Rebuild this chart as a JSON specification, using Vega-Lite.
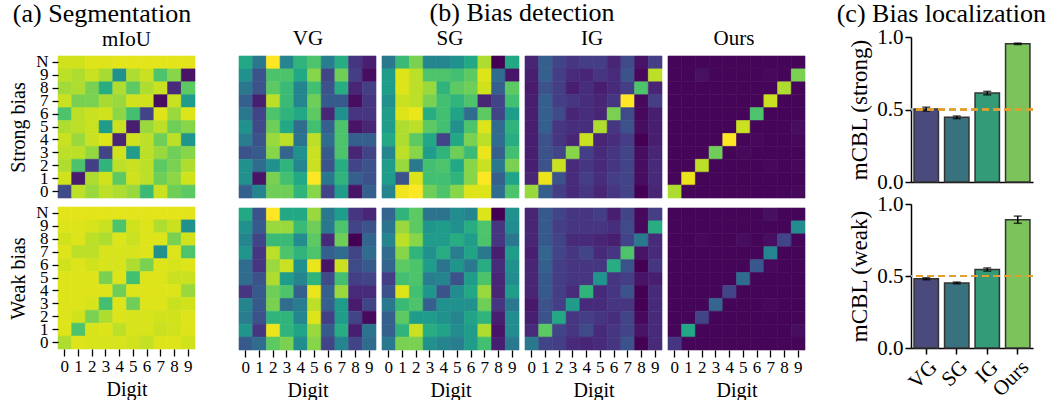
{
"$schema": "https://vega.github.io/schema/vega-lite/v6.json",
"background": "white",
"padding": {"left": 8, "top": 0, "right": 0, "bottom": 0},
"config": {
  "font": "Liberation Serif",
  "view": {"stroke": null},
  "text": {"font": "Liberation Serif"},
  "rect": {"strokeWidth": 0.6},
  "axis": {"labelFont": "Liberation Serif", "titleFont": "Liberation Serif", "labelColor": "black", "titleColor": "black", "titleFontWeight": "normal", "tickColor": "black", "domainColor": "black", "grid": false, "labelFontSize": 17, "titleFontSize": 20, "tickWidth": 1.3},
  "title": {"font": "Liberation Serif", "fontWeight": "normal", "color": "black"}
},
"datasets": {
"bars": [
{"b":"strong","m":"VG","v":0.503,"lo":0.489,"hi":0.516},
{"b":"strong","m":"SG","v":0.446,"lo":0.437,"hi":0.455},
{"b":"strong","m":"IG","v":0.613,"lo":0.601,"hi":0.625},
{"b":"strong","m":"Ours","v":0.953,"lo":0.948,"hi":0.958},
{"b":"weak","m":"VG","v":0.481,"lo":0.474,"hi":0.488},
{"b":"weak","m":"SG","v":0.452,"lo":0.446,"hi":0.458},
{"b":"weak","m":"IG","v":0.545,"lo":0.534,"hi":0.556},
{"b":"weak","m":"Ours","v":0.891,"lo":0.866,"hi":0.916}
],
"heat": [
{"k":"ms","x":0,"y":10,"v":93},{"k":"ms","x":1,"y":10,"v":93},{"k":"ms","x":2,"y":10,"v":95},{"k":"ms","x":3,"y":10,"v":95},{"k":"ms","x":4,"y":10,"v":96},{"k":"ms","x":5,"y":10,"v":96},{"k":"ms","x":6,"y":10,"v":96},{"k":"ms","x":7,"y":10,"v":96},{"k":"ms","x":8,"y":10,"v":96},{"k":"ms","x":9,"y":10,"v":96},
{"k":"ms","x":0,"y":9,"v":90},{"k":"ms","x":1,"y":9,"v":88},{"k":"ms","x":2,"y":9,"v":92},{"k":"ms","x":3,"y":9,"v":87},{"k":"ms","x":4,"y":9,"v":50},{"k":"ms","x":5,"y":9,"v":88},{"k":"ms","x":6,"y":9,"v":92},{"k":"ms","x":7,"y":9,"v":72},{"k":"ms","x":8,"y":9,"v":82},{"k":"ms","x":9,"y":9,"v":5},
{"k":"ms","x":0,"y":8,"v":86},{"k":"ms","x":1,"y":8,"v":88},{"k":"ms","x":2,"y":8,"v":80},{"k":"ms","x":3,"y":8,"v":62},{"k":"ms","x":4,"y":8,"v":88},{"k":"ms","x":5,"y":8,"v":75},{"k":"ms","x":6,"y":8,"v":88},{"k":"ms","x":7,"y":8,"v":92},{"k":"ms","x":8,"y":8,"v":12},{"k":"ms","x":9,"y":8,"v":75},
{"k":"ms","x":0,"y":7,"v":92},{"k":"ms","x":1,"y":7,"v":80},{"k":"ms","x":2,"y":7,"v":80},{"k":"ms","x":3,"y":7,"v":87},{"k":"ms","x":4,"y":7,"v":85},{"k":"ms","x":5,"y":7,"v":93},{"k":"ms","x":6,"y":7,"v":93},{"k":"ms","x":7,"y":7,"v":3},{"k":"ms","x":8,"y":7,"v":92},{"k":"ms","x":9,"y":7,"v":55},
{"k":"ms","x":0,"y":6,"v":72},{"k":"ms","x":1,"y":6,"v":90},{"k":"ms","x":2,"y":6,"v":92},{"k":"ms","x":3,"y":6,"v":93},{"k":"ms","x":4,"y":6,"v":83},{"k":"ms","x":5,"y":6,"v":70},{"k":"ms","x":6,"y":6,"v":20},{"k":"ms","x":7,"y":6,"v":95},{"k":"ms","x":8,"y":6,"v":85},{"k":"ms","x":9,"y":6,"v":95},
{"k":"ms","x":0,"y":5,"v":88},{"k":"ms","x":1,"y":5,"v":90},{"k":"ms","x":2,"y":5,"v":92},{"k":"ms","x":3,"y":5,"v":55},{"k":"ms","x":4,"y":5,"v":92},{"k":"ms","x":5,"y":5,"v":8},{"k":"ms","x":6,"y":5,"v":85},{"k":"ms","x":7,"y":5,"v":90},{"k":"ms","x":8,"y":5,"v":78},{"k":"ms","x":9,"y":5,"v":82},
{"k":"ms","x":0,"y":4,"v":92},{"k":"ms","x":1,"y":4,"v":85},{"k":"ms","x":2,"y":4,"v":92},{"k":"ms","x":3,"y":4,"v":95},{"k":"ms","x":4,"y":4,"v":10},{"k":"ms","x":5,"y":4,"v":93},{"k":"ms","x":6,"y":4,"v":90},{"k":"ms","x":7,"y":4,"v":78},{"k":"ms","x":8,"y":4,"v":90},{"k":"ms","x":9,"y":4,"v":52},
{"k":"ms","x":0,"y":3,"v":90},{"k":"ms","x":1,"y":3,"v":90},{"k":"ms","x":2,"y":3,"v":84},{"k":"ms","x":3,"y":3,"v":20},{"k":"ms","x":4,"y":3,"v":93},{"k":"ms","x":5,"y":3,"v":55},{"k":"ms","x":6,"y":3,"v":90},{"k":"ms","x":7,"y":3,"v":85},{"k":"ms","x":8,"y":3,"v":78},{"k":"ms","x":9,"y":3,"v":82},
{"k":"ms","x":0,"y":2,"v":88},{"k":"ms","x":1,"y":2,"v":72},{"k":"ms","x":2,"y":2,"v":18},{"k":"ms","x":3,"y":2,"v":65},{"k":"ms","x":4,"y":2,"v":90},{"k":"ms","x":5,"y":2,"v":92},{"k":"ms","x":6,"y":2,"v":90},{"k":"ms","x":7,"y":2,"v":75},{"k":"ms","x":8,"y":2,"v":80},{"k":"ms","x":9,"y":2,"v":88},
{"k":"ms","x":0,"y":1,"v":93},{"k":"ms","x":1,"y":1,"v":7},{"k":"ms","x":2,"y":1,"v":88},{"k":"ms","x":3,"y":1,"v":93},{"k":"ms","x":4,"y":1,"v":75},{"k":"ms","x":5,"y":1,"v":93},{"k":"ms","x":6,"y":1,"v":90},{"k":"ms","x":7,"y":1,"v":78},{"k":"ms","x":8,"y":1,"v":83},{"k":"ms","x":9,"y":1,"v":93},
{"k":"ms","x":0,"y":0,"v":22},{"k":"ms","x":1,"y":0,"v":90},{"k":"ms","x":2,"y":0,"v":85},{"k":"ms","x":3,"y":0,"v":90},{"k":"ms","x":4,"y":0,"v":88},{"k":"ms","x":5,"y":0,"v":85},{"k":"ms","x":6,"y":0,"v":68},{"k":"ms","x":7,"y":0,"v":92},{"k":"ms","x":8,"y":0,"v":78},{"k":"ms","x":9,"y":0,"v":75},

{"k":"mw","x":0,"y":10,"v":96},{"k":"mw","x":1,"y":10,"v":96},{"k":"mw","x":2,"y":10,"v":96},{"k":"mw","x":3,"y":10,"v":96},{"k":"mw","x":4,"y":10,"v":96},{"k":"mw","x":5,"y":10,"v":96},{"k":"mw","x":6,"y":10,"v":96},{"k":"mw","x":7,"y":10,"v":96},{"k":"mw","x":8,"y":10,"v":96},{"k":"mw","x":9,"y":10,"v":96},
{"k":"mw","x":0,"y":9,"v":95},{"k":"mw","x":1,"y":9,"v":95},{"k":"mw","x":2,"y":9,"v":94},{"k":"mw","x":3,"y":9,"v":92},{"k":"mw","x":4,"y":9,"v":72},{"k":"mw","x":5,"y":9,"v":93},{"k":"mw","x":6,"y":9,"v":95},{"k":"mw","x":7,"y":9,"v":88},{"k":"mw","x":8,"y":9,"v":92},{"k":"mw","x":9,"y":9,"v":50},
{"k":"mw","x":0,"y":8,"v":93},{"k":"mw","x":1,"y":8,"v":95},{"k":"mw","x":2,"y":8,"v":90},{"k":"mw","x":3,"y":8,"v":88},{"k":"mw","x":4,"y":8,"v":95},{"k":"mw","x":5,"y":8,"v":92},{"k":"mw","x":6,"y":8,"v":95},{"k":"mw","x":7,"y":8,"v":95},{"k":"mw","x":8,"y":8,"v":80},{"k":"mw","x":9,"y":8,"v":93},
{"k":"mw","x":0,"y":7,"v":95},{"k":"mw","x":1,"y":7,"v":90},{"k":"mw","x":2,"y":7,"v":90},{"k":"mw","x":3,"y":7,"v":94},{"k":"mw","x":4,"y":7,"v":94},{"k":"mw","x":5,"y":7,"v":94},{"k":"mw","x":6,"y":7,"v":95},{"k":"mw","x":7,"y":7,"v":50},{"k":"mw","x":8,"y":7,"v":95},{"k":"mw","x":9,"y":7,"v":72},
{"k":"mw","x":0,"y":6,"v":93},{"k":"mw","x":1,"y":6,"v":95},{"k":"mw","x":2,"y":6,"v":93},{"k":"mw","x":3,"y":6,"v":94},{"k":"mw","x":4,"y":6,"v":94},{"k":"mw","x":5,"y":6,"v":88},{"k":"mw","x":6,"y":6,"v":80},{"k":"mw","x":7,"y":6,"v":95},{"k":"mw","x":8,"y":6,"v":94},{"k":"mw","x":9,"y":6,"v":95},
{"k":"mw","x":0,"y":5,"v":95},{"k":"mw","x":1,"y":5,"v":95},{"k":"mw","x":2,"y":5,"v":95},{"k":"mw","x":3,"y":5,"v":80},{"k":"mw","x":4,"y":5,"v":95},{"k":"mw","x":5,"y":5,"v":70},{"k":"mw","x":6,"y":5,"v":95},{"k":"mw","x":7,"y":5,"v":95},{"k":"mw","x":8,"y":5,"v":92},{"k":"mw","x":9,"y":5,"v":92},
{"k":"mw","x":0,"y":4,"v":95},{"k":"mw","x":1,"y":4,"v":95},{"k":"mw","x":2,"y":4,"v":95},{"k":"mw","x":3,"y":4,"v":95},{"k":"mw","x":4,"y":4,"v":78},{"k":"mw","x":5,"y":4,"v":95},{"k":"mw","x":6,"y":4,"v":95},{"k":"mw","x":7,"y":4,"v":95},{"k":"mw","x":8,"y":4,"v":95},{"k":"mw","x":9,"y":4,"v":85},
{"k":"mw","x":0,"y":3,"v":95},{"k":"mw","x":1,"y":3,"v":95},{"k":"mw","x":2,"y":3,"v":94},{"k":"mw","x":3,"y":3,"v":70},{"k":"mw","x":4,"y":3,"v":95},{"k":"mw","x":5,"y":3,"v":78},{"k":"mw","x":6,"y":3,"v":95},{"k":"mw","x":7,"y":3,"v":95},{"k":"mw","x":8,"y":3,"v":92},{"k":"mw","x":9,"y":3,"v":93},
{"k":"mw","x":0,"y":2,"v":95},{"k":"mw","x":1,"y":2,"v":93},{"k":"mw","x":2,"y":2,"v":80},{"k":"mw","x":3,"y":2,"v":88},{"k":"mw","x":4,"y":2,"v":95},{"k":"mw","x":5,"y":2,"v":94},{"k":"mw","x":6,"y":2,"v":94},{"k":"mw","x":7,"y":2,"v":93},{"k":"mw","x":8,"y":2,"v":93},{"k":"mw","x":9,"y":2,"v":95},
{"k":"mw","x":0,"y":1,"v":95},{"k":"mw","x":1,"y":1,"v":72},{"k":"mw","x":2,"y":1,"v":94},{"k":"mw","x":3,"y":1,"v":95},{"k":"mw","x":4,"y":1,"v":90},{"k":"mw","x":5,"y":1,"v":94},{"k":"mw","x":6,"y":1,"v":94},{"k":"mw","x":7,"y":1,"v":92},{"k":"mw","x":8,"y":1,"v":93},{"k":"mw","x":9,"y":1,"v":95},
{"k":"mw","x":0,"y":0,"v":88},{"k":"mw","x":1,"y":0,"v":95},{"k":"mw","x":2,"y":0,"v":94},{"k":"mw","x":3,"y":0,"v":94},{"k":"mw","x":4,"y":0,"v":94},{"k":"mw","x":5,"y":0,"v":93},{"k":"mw","x":6,"y":0,"v":91},{"k":"mw","x":7,"y":0,"v":95},{"k":"mw","x":8,"y":0,"v":95},{"k":"mw","x":9,"y":0,"v":93},

{"k":"vs","x":0,"y":10,"v":60},{"k":"vs","x":1,"y":10,"v":40},{"k":"vs","x":2,"y":10,"v":100},{"k":"vs","x":3,"y":10,"v":45},{"k":"vs","x":4,"y":10,"v":65},{"k":"vs","x":5,"y":10,"v":72},{"k":"vs","x":6,"y":10,"v":42},{"k":"vs","x":7,"y":10,"v":62},{"k":"vs","x":8,"y":10,"v":15},{"k":"vs","x":9,"y":10,"v":8},
{"k":"vs","x":0,"y":9,"v":50},{"k":"vs","x":1,"y":9,"v":25},{"k":"vs","x":2,"y":9,"v":72},{"k":"vs","x":3,"y":9,"v":72},{"k":"vs","x":4,"y":9,"v":60},{"k":"vs","x":5,"y":9,"v":82},{"k":"vs","x":6,"y":9,"v":20},{"k":"vs","x":7,"y":9,"v":78},{"k":"vs","x":8,"y":9,"v":18},{"k":"vs","x":9,"y":9,"v":3},
{"k":"vs","x":0,"y":8,"v":40},{"k":"vs","x":1,"y":8,"v":25},{"k":"vs","x":2,"y":8,"v":75},{"k":"vs","x":3,"y":8,"v":68},{"k":"vs","x":4,"y":8,"v":45},{"k":"vs","x":5,"y":8,"v":70},{"k":"vs","x":6,"y":8,"v":25},{"k":"vs","x":7,"y":8,"v":62},{"k":"vs","x":8,"y":8,"v":10},{"k":"vs","x":9,"y":8,"v":18},
{"k":"vs","x":0,"y":7,"v":30},{"k":"vs","x":1,"y":7,"v":8},{"k":"vs","x":2,"y":7,"v":90},{"k":"vs","x":3,"y":7,"v":68},{"k":"vs","x":4,"y":7,"v":45},{"k":"vs","x":5,"y":7,"v":78},{"k":"vs","x":6,"y":7,"v":28},{"k":"vs","x":7,"y":7,"v":28},{"k":"vs","x":8,"y":7,"v":3},{"k":"vs","x":9,"y":7,"v":15},
{"k":"vs","x":0,"y":6,"v":40},{"k":"vs","x":1,"y":6,"v":20},{"k":"vs","x":2,"y":6,"v":72},{"k":"vs","x":3,"y":6,"v":65},{"k":"vs","x":4,"y":6,"v":60},{"k":"vs","x":5,"y":6,"v":75},{"k":"vs","x":6,"y":6,"v":10},{"k":"vs","x":7,"y":6,"v":50},{"k":"vs","x":8,"y":6,"v":15},{"k":"vs","x":9,"y":6,"v":15},
{"k":"vs","x":0,"y":5,"v":50},{"k":"vs","x":1,"y":5,"v":22},{"k":"vs","x":2,"y":5,"v":78},{"k":"vs","x":3,"y":5,"v":60},{"k":"vs","x":4,"y":5,"v":35},{"k":"vs","x":5,"y":5,"v":70},{"k":"vs","x":6,"y":5,"v":30},{"k":"vs","x":7,"y":5,"v":72},{"k":"vs","x":8,"y":5,"v":5},{"k":"vs","x":9,"y":5,"v":10},
{"k":"vs","x":0,"y":4,"v":42},{"k":"vs","x":1,"y":4,"v":25},{"k":"vs","x":2,"y":4,"v":85},{"k":"vs","x":3,"y":4,"v":90},{"k":"vs","x":4,"y":4,"v":38},{"k":"vs","x":5,"y":4,"v":90},{"k":"vs","x":6,"y":4,"v":35},{"k":"vs","x":7,"y":4,"v":72},{"k":"vs","x":8,"y":4,"v":30},{"k":"vs","x":9,"y":4,"v":30},
{"k":"vs","x":0,"y":3,"v":25},{"k":"vs","x":1,"y":3,"v":28},{"k":"vs","x":2,"y":3,"v":82},{"k":"vs","x":3,"y":3,"v":32},{"k":"vs","x":4,"y":3,"v":50},{"k":"vs","x":5,"y":3,"v":92},{"k":"vs","x":6,"y":3,"v":28},{"k":"vs","x":7,"y":3,"v":72},{"k":"vs","x":8,"y":3,"v":10},{"k":"vs","x":9,"y":3,"v":20},
{"k":"vs","x":0,"y":2,"v":50},{"k":"vs","x":1,"y":2,"v":35},{"k":"vs","x":2,"y":2,"v":50},{"k":"vs","x":3,"y":2,"v":65},{"k":"vs","x":4,"y":2,"v":45},{"k":"vs","x":5,"y":2,"v":92},{"k":"vs","x":6,"y":2,"v":25},{"k":"vs","x":7,"y":2,"v":62},{"k":"vs","x":8,"y":2,"v":20},{"k":"vs","x":9,"y":2,"v":25},
{"k":"vs","x":0,"y":1,"v":50},{"k":"vs","x":1,"y":1,"v":5},{"k":"vs","x":2,"y":1,"v":80},{"k":"vs","x":3,"y":1,"v":70},{"k":"vs","x":4,"y":1,"v":60},{"k":"vs","x":5,"y":1,"v":100},{"k":"vs","x":6,"y":1,"v":40},{"k":"vs","x":7,"y":1,"v":65},{"k":"vs","x":8,"y":1,"v":30},{"k":"vs","x":9,"y":1,"v":25},
{"k":"vs","x":0,"y":0,"v":30},{"k":"vs","x":1,"y":0,"v":45},{"k":"vs","x":2,"y":0,"v":78},{"k":"vs","x":3,"y":0,"v":78},{"k":"vs","x":4,"y":0,"v":65},{"k":"vs","x":5,"y":0,"v":82},{"k":"vs","x":6,"y":0,"v":20},{"k":"vs","x":7,"y":0,"v":55},{"k":"vs","x":8,"y":0,"v":5},{"k":"vs","x":9,"y":0,"v":30},

{"k":"vw","x":0,"y":10,"v":60},{"k":"vw","x":1,"y":10,"v":25},{"k":"vw","x":2,"y":10,"v":100},{"k":"vw","x":3,"y":10,"v":60},{"k":"vw","x":4,"y":10,"v":60},{"k":"vw","x":5,"y":10,"v":85},{"k":"vw","x":6,"y":10,"v":40},{"k":"vw","x":7,"y":10,"v":55},{"k":"vw","x":8,"y":10,"v":15},{"k":"vw","x":9,"y":10,"v":10},
{"k":"vw","x":0,"y":9,"v":50},{"k":"vw","x":1,"y":9,"v":28},{"k":"vw","x":2,"y":9,"v":85},{"k":"vw","x":3,"y":9,"v":85},{"k":"vw","x":4,"y":9,"v":68},{"k":"vw","x":5,"y":9,"v":78},{"k":"vw","x":6,"y":9,"v":40},{"k":"vw","x":7,"y":9,"v":72},{"k":"vw","x":8,"y":9,"v":20},{"k":"vw","x":9,"y":9,"v":25},
{"k":"vw","x":0,"y":8,"v":45},{"k":"vw","x":1,"y":8,"v":20},{"k":"vw","x":2,"y":8,"v":68},{"k":"vw","x":3,"y":8,"v":68},{"k":"vw","x":4,"y":8,"v":48},{"k":"vw","x":5,"y":8,"v":75},{"k":"vw","x":6,"y":8,"v":12},{"k":"vw","x":7,"y":8,"v":78},{"k":"vw","x":8,"y":8,"v":0},{"k":"vw","x":9,"y":8,"v":32},
{"k":"vw","x":0,"y":7,"v":52},{"k":"vw","x":1,"y":7,"v":15},{"k":"vw","x":2,"y":7,"v":90},{"k":"vw","x":3,"y":7,"v":72},{"k":"vw","x":4,"y":7,"v":65},{"k":"vw","x":5,"y":7,"v":72},{"k":"vw","x":6,"y":7,"v":30},{"k":"vw","x":7,"y":7,"v":35},{"k":"vw","x":8,"y":7,"v":20},{"k":"vw","x":9,"y":7,"v":35},
{"k":"vw","x":0,"y":6,"v":35},{"k":"vw","x":1,"y":6,"v":15},{"k":"vw","x":2,"y":6,"v":85},{"k":"vw","x":3,"y":6,"v":92},{"k":"vw","x":4,"y":6,"v":50},{"k":"vw","x":5,"y":6,"v":97},{"k":"vw","x":6,"y":6,"v":5},{"k":"vw","x":7,"y":6,"v":92},{"k":"vw","x":8,"y":6,"v":22},{"k":"vw","x":9,"y":6,"v":28},
{"k":"vw","x":0,"y":5,"v":35},{"k":"vw","x":1,"y":5,"v":25},{"k":"vw","x":2,"y":5,"v":88},{"k":"vw","x":3,"y":5,"v":55},{"k":"vw","x":4,"y":5,"v":45},{"k":"vw","x":5,"y":5,"v":65},{"k":"vw","x":6,"y":5,"v":22},{"k":"vw","x":7,"y":5,"v":70},{"k":"vw","x":8,"y":5,"v":18},{"k":"vw","x":9,"y":5,"v":20},
{"k":"vw","x":0,"y":4,"v":15},{"k":"vw","x":1,"y":4,"v":28},{"k":"vw","x":2,"y":4,"v":78},{"k":"vw","x":3,"y":4,"v":72},{"k":"vw","x":4,"y":4,"v":30},{"k":"vw","x":5,"y":4,"v":97},{"k":"vw","x":6,"y":4,"v":30},{"k":"vw","x":7,"y":4,"v":85},{"k":"vw","x":8,"y":4,"v":12},{"k":"vw","x":9,"y":4,"v":12},
{"k":"vw","x":0,"y":3,"v":45},{"k":"vw","x":1,"y":3,"v":28},{"k":"vw","x":2,"y":3,"v":80},{"k":"vw","x":3,"y":3,"v":35},{"k":"vw","x":4,"y":3,"v":42},{"k":"vw","x":5,"y":3,"v":90},{"k":"vw","x":6,"y":3,"v":30},{"k":"vw","x":7,"y":3,"v":55},{"k":"vw","x":8,"y":3,"v":7},{"k":"vw","x":9,"y":3,"v":20},
{"k":"vw","x":0,"y":2,"v":42},{"k":"vw","x":1,"y":2,"v":25},{"k":"vw","x":2,"y":2,"v":65},{"k":"vw","x":3,"y":2,"v":65},{"k":"vw","x":4,"y":2,"v":45},{"k":"vw","x":5,"y":2,"v":95},{"k":"vw","x":6,"y":2,"v":18},{"k":"vw","x":7,"y":2,"v":55},{"k":"vw","x":8,"y":2,"v":20},{"k":"vw","x":9,"y":2,"v":2},
{"k":"vw","x":0,"y":1,"v":52},{"k":"vw","x":1,"y":1,"v":15},{"k":"vw","x":2,"y":1,"v":97},{"k":"vw","x":3,"y":1,"v":65},{"k":"vw","x":4,"y":1,"v":58},{"k":"vw","x":5,"y":1,"v":85},{"k":"vw","x":6,"y":1,"v":28},{"k":"vw","x":7,"y":1,"v":62},{"k":"vw","x":8,"y":1,"v":8},{"k":"vw","x":9,"y":1,"v":38},
{"k":"vw","x":0,"y":0,"v":28},{"k":"vw","x":1,"y":0,"v":35},{"k":"vw","x":2,"y":0,"v":75},{"k":"vw","x":3,"y":0,"v":80},{"k":"vw","x":4,"y":0,"v":48},{"k":"vw","x":5,"y":0,"v":82},{"k":"vw","x":6,"y":0,"v":20},{"k":"vw","x":7,"y":0,"v":45},{"k":"vw","x":8,"y":0,"v":20},{"k":"vw","x":9,"y":0,"v":35},

{"k":"ss","x":0,"y":10,"v":40},{"k":"ss","x":1,"y":10,"v":68},{"k":"ss","x":2,"y":10,"v":80},{"k":"ss","x":3,"y":10,"v":45},{"k":"ss","x":4,"y":10,"v":45},{"k":"ss","x":5,"y":10,"v":50},{"k":"ss","x":6,"y":10,"v":60},{"k":"ss","x":7,"y":10,"v":88},{"k":"ss","x":8,"y":10,"v":0},{"k":"ss","x":9,"y":10,"v":60},
{"k":"ss","x":0,"y":9,"v":55},{"k":"ss","x":1,"y":9,"v":95},{"k":"ss","x":2,"y":9,"v":90},{"k":"ss","x":3,"y":9,"v":72},{"k":"ss","x":4,"y":9,"v":72},{"k":"ss","x":5,"y":9,"v":70},{"k":"ss","x":6,"y":9,"v":75},{"k":"ss","x":7,"y":9,"v":95},{"k":"ss","x":8,"y":9,"v":35},{"k":"ss","x":9,"y":9,"v":5},
{"k":"ss","x":0,"y":8,"v":55},{"k":"ss","x":1,"y":8,"v":95},{"k":"ss","x":2,"y":8,"v":90},{"k":"ss","x":3,"y":8,"v":85},{"k":"ss","x":4,"y":8,"v":65},{"k":"ss","x":5,"y":8,"v":75},{"k":"ss","x":6,"y":8,"v":78},{"k":"ss","x":7,"y":8,"v":93},{"k":"ss","x":8,"y":8,"v":30},{"k":"ss","x":9,"y":8,"v":75},
{"k":"ss","x":0,"y":7,"v":50},{"k":"ss","x":1,"y":7,"v":92},{"k":"ss","x":2,"y":7,"v":90},{"k":"ss","x":3,"y":7,"v":80},{"k":"ss","x":4,"y":7,"v":70},{"k":"ss","x":5,"y":7,"v":65},{"k":"ss","x":6,"y":7,"v":72},{"k":"ss","x":7,"y":7,"v":10},{"k":"ss","x":8,"y":7,"v":20},{"k":"ss","x":9,"y":7,"v":70},
{"k":"ss","x":0,"y":6,"v":55},{"k":"ss","x":1,"y":6,"v":95},{"k":"ss","x":2,"y":6,"v":97},{"k":"ss","x":3,"y":6,"v":62},{"k":"ss","x":4,"y":6,"v":70},{"k":"ss","x":5,"y":6,"v":58},{"k":"ss","x":6,"y":6,"v":35},{"k":"ss","x":7,"y":6,"v":75},{"k":"ss","x":8,"y":6,"v":20},{"k":"ss","x":9,"y":6,"v":55},
{"k":"ss","x":0,"y":5,"v":55},{"k":"ss","x":1,"y":5,"v":88},{"k":"ss","x":2,"y":5,"v":90},{"k":"ss","x":3,"y":5,"v":75},{"k":"ss","x":4,"y":5,"v":70},{"k":"ss","x":5,"y":5,"v":50},{"k":"ss","x":6,"y":5,"v":72},{"k":"ss","x":7,"y":5,"v":95},{"k":"ss","x":8,"y":5,"v":35},{"k":"ss","x":9,"y":5,"v":65},
{"k":"ss","x":0,"y":4,"v":60},{"k":"ss","x":1,"y":4,"v":88},{"k":"ss","x":2,"y":4,"v":75},{"k":"ss","x":3,"y":4,"v":60},{"k":"ss","x":4,"y":4,"v":20},{"k":"ss","x":5,"y":4,"v":60},{"k":"ss","x":6,"y":4,"v":80},{"k":"ss","x":7,"y":4,"v":90},{"k":"ss","x":8,"y":4,"v":35},{"k":"ss","x":9,"y":4,"v":62},
{"k":"ss","x":0,"y":3,"v":45},{"k":"ss","x":1,"y":3,"v":90},{"k":"ss","x":2,"y":3,"v":82},{"k":"ss","x":3,"y":3,"v":55},{"k":"ss","x":4,"y":3,"v":65},{"k":"ss","x":5,"y":3,"v":78},{"k":"ss","x":6,"y":3,"v":68},{"k":"ss","x":7,"y":3,"v":97},{"k":"ss","x":8,"y":3,"v":30},{"k":"ss","x":9,"y":3,"v":70},
{"k":"ss","x":0,"y":2,"v":55},{"k":"ss","x":1,"y":2,"v":85},{"k":"ss","x":2,"y":2,"v":40},{"k":"ss","x":3,"y":2,"v":70},{"k":"ss","x":4,"y":2,"v":72},{"k":"ss","x":5,"y":2,"v":60},{"k":"ss","x":6,"y":2,"v":82},{"k":"ss","x":7,"y":2,"v":92},{"k":"ss","x":8,"y":2,"v":40},{"k":"ss","x":9,"y":2,"v":80},
{"k":"ss","x":0,"y":1,"v":55},{"k":"ss","x":1,"y":1,"v":25},{"k":"ss","x":2,"y":1,"v":95},{"k":"ss","x":3,"y":1,"v":70},{"k":"ss","x":4,"y":1,"v":70},{"k":"ss","x":5,"y":1,"v":65},{"k":"ss","x":6,"y":1,"v":82},{"k":"ss","x":7,"y":1,"v":100},{"k":"ss","x":8,"y":1,"v":30},{"k":"ss","x":9,"y":1,"v":58},
{"k":"ss","x":0,"y":0,"v":45},{"k":"ss","x":1,"y":0,"v":98},{"k":"ss","x":2,"y":0,"v":100},{"k":"ss","x":3,"y":0,"v":78},{"k":"ss","x":4,"y":0,"v":72},{"k":"ss","x":5,"y":0,"v":82},{"k":"ss","x":6,"y":0,"v":95},{"k":"ss","x":7,"y":0,"v":95},{"k":"ss","x":8,"y":0,"v":35},{"k":"ss","x":9,"y":0,"v":72},

{"k":"sw","x":0,"y":10,"v":32},{"k":"sw","x":1,"y":10,"v":65},{"k":"sw","x":2,"y":10,"v":75},{"k":"sw","x":3,"y":10,"v":38},{"k":"sw","x":4,"y":10,"v":38},{"k":"sw","x":5,"y":10,"v":48},{"k":"sw","x":6,"y":10,"v":45},{"k":"sw","x":7,"y":10,"v":95},{"k":"sw","x":8,"y":10,"v":0},{"k":"sw","x":9,"y":10,"v":50},
{"k":"sw","x":0,"y":9,"v":38},{"k":"sw","x":1,"y":9,"v":85},{"k":"sw","x":2,"y":9,"v":75},{"k":"sw","x":3,"y":9,"v":52},{"k":"sw","x":4,"y":9,"v":55},{"k":"sw","x":5,"y":9,"v":50},{"k":"sw","x":6,"y":9,"v":62},{"k":"sw","x":7,"y":9,"v":72},{"k":"sw","x":8,"y":9,"v":15},{"k":"sw","x":9,"y":9,"v":48},
{"k":"sw","x":0,"y":8,"v":45},{"k":"sw","x":1,"y":8,"v":90},{"k":"sw","x":2,"y":8,"v":82},{"k":"sw","x":3,"y":8,"v":55},{"k":"sw","x":4,"y":8,"v":55},{"k":"sw","x":5,"y":8,"v":62},{"k":"sw","x":6,"y":8,"v":55},{"k":"sw","x":7,"y":8,"v":72},{"k":"sw","x":8,"y":8,"v":15},{"k":"sw","x":9,"y":8,"v":40},
{"k":"sw","x":0,"y":7,"v":35},{"k":"sw","x":1,"y":7,"v":82},{"k":"sw","x":2,"y":7,"v":65},{"k":"sw","x":3,"y":7,"v":50},{"k":"sw","x":4,"y":7,"v":62},{"k":"sw","x":5,"y":7,"v":42},{"k":"sw","x":6,"y":7,"v":58},{"k":"sw","x":7,"y":7,"v":40},{"k":"sw","x":8,"y":7,"v":8},{"k":"sw","x":9,"y":7,"v":55},
{"k":"sw","x":0,"y":6,"v":32},{"k":"sw","x":1,"y":6,"v":75},{"k":"sw","x":2,"y":6,"v":72},{"k":"sw","x":3,"y":6,"v":55},{"k":"sw","x":4,"y":6,"v":38},{"k":"sw","x":5,"y":6,"v":52},{"k":"sw","x":6,"y":6,"v":40},{"k":"sw","x":7,"y":6,"v":62},{"k":"sw","x":8,"y":6,"v":12},{"k":"sw","x":9,"y":6,"v":50},
{"k":"sw","x":0,"y":5,"v":18},{"k":"sw","x":1,"y":5,"v":70},{"k":"sw","x":2,"y":5,"v":72},{"k":"sw","x":3,"y":5,"v":42},{"k":"sw","x":4,"y":5,"v":45},{"k":"sw","x":5,"y":5,"v":25},{"k":"sw","x":6,"y":5,"v":55},{"k":"sw","x":7,"y":5,"v":72},{"k":"sw","x":8,"y":5,"v":10},{"k":"sw","x":9,"y":5,"v":48},
{"k":"sw","x":0,"y":4,"v":25},{"k":"sw","x":1,"y":4,"v":95},{"k":"sw","x":2,"y":4,"v":70},{"k":"sw","x":3,"y":4,"v":52},{"k":"sw","x":4,"y":4,"v":25},{"k":"sw","x":5,"y":4,"v":48},{"k":"sw","x":6,"y":4,"v":60},{"k":"sw","x":7,"y":4,"v":85},{"k":"sw","x":8,"y":4,"v":10},{"k":"sw","x":9,"y":4,"v":55},
{"k":"sw","x":0,"y":3,"v":40},{"k":"sw","x":1,"y":3,"v":68},{"k":"sw","x":2,"y":3,"v":72},{"k":"sw","x":3,"y":3,"v":30},{"k":"sw","x":4,"y":3,"v":50},{"k":"sw","x":5,"y":3,"v":50},{"k":"sw","x":6,"y":3,"v":50},{"k":"sw","x":7,"y":3,"v":78},{"k":"sw","x":8,"y":3,"v":15},{"k":"sw","x":9,"y":3,"v":40},
{"k":"sw","x":0,"y":2,"v":30},{"k":"sw","x":1,"y":2,"v":75},{"k":"sw","x":2,"y":2,"v":55},{"k":"sw","x":3,"y":2,"v":55},{"k":"sw","x":4,"y":2,"v":50},{"k":"sw","x":5,"y":2,"v":45},{"k":"sw","x":6,"y":2,"v":58},{"k":"sw","x":7,"y":2,"v":65},{"k":"sw","x":8,"y":2,"v":8},{"k":"sw","x":9,"y":2,"v":48},
{"k":"sw","x":0,"y":1,"v":30},{"k":"sw","x":1,"y":1,"v":65},{"k":"sw","x":2,"y":1,"v":92},{"k":"sw","x":3,"y":1,"v":62},{"k":"sw","x":4,"y":1,"v":58},{"k":"sw","x":5,"y":1,"v":48},{"k":"sw","x":6,"y":1,"v":55},{"k":"sw","x":7,"y":1,"v":88},{"k":"sw","x":8,"y":1,"v":5},{"k":"sw","x":9,"y":1,"v":48},
{"k":"sw","x":0,"y":0,"v":40},{"k":"sw","x":1,"y":0,"v":80},{"k":"sw","x":2,"y":0,"v":80},{"k":"sw","x":3,"y":0,"v":50},{"k":"sw","x":4,"y":0,"v":45},{"k":"sw","x":5,"y":0,"v":42},{"k":"sw","x":6,"y":0,"v":55},{"k":"sw","x":7,"y":0,"v":70},{"k":"sw","x":8,"y":0,"v":8},{"k":"sw","x":9,"y":0,"v":40},

{"k":"is","x":0,"y":10,"v":10},{"k":"is","x":1,"y":10,"v":30},{"k":"is","x":2,"y":10,"v":20},{"k":"is","x":3,"y":10,"v":15},{"k":"is","x":4,"y":10,"v":18},{"k":"is","x":5,"y":10,"v":18},{"k":"is","x":6,"y":10,"v":10},{"k":"is","x":7,"y":10,"v":22},{"k":"is","x":8,"y":10,"v":5},{"k":"is","x":9,"y":10,"v":18},
{"k":"is","x":0,"y":9,"v":8},{"k":"is","x":1,"y":9,"v":30},{"k":"is","x":2,"y":9,"v":18},{"k":"is","x":3,"y":9,"v":12},{"k":"is","x":4,"y":9,"v":10},{"k":"is","x":5,"y":9,"v":15},{"k":"is","x":6,"y":9,"v":12},{"k":"is","x":7,"y":9,"v":25},{"k":"is","x":8,"y":9,"v":2},{"k":"is","x":9,"y":9,"v":90},
{"k":"is","x":0,"y":8,"v":7},{"k":"is","x":1,"y":8,"v":25},{"k":"is","x":2,"y":8,"v":18},{"k":"is","x":3,"y":8,"v":8},{"k":"is","x":4,"y":8,"v":13},{"k":"is","x":5,"y":8,"v":8},{"k":"is","x":6,"y":8,"v":12},{"k":"is","x":7,"y":8,"v":18},{"k":"is","x":8,"y":8,"v":72},{"k":"is","x":9,"y":8,"v":10},
{"k":"is","x":0,"y":7,"v":8},{"k":"is","x":1,"y":7,"v":30},{"k":"is","x":2,"y":7,"v":18},{"k":"is","x":3,"y":7,"v":15},{"k":"is","x":4,"y":7,"v":13},{"k":"is","x":5,"y":7,"v":10},{"k":"is","x":6,"y":7,"v":15},{"k":"is","x":7,"y":7,"v":100},{"k":"is","x":8,"y":7,"v":2},{"k":"is","x":9,"y":7,"v":18},
{"k":"is","x":0,"y":6,"v":8},{"k":"is","x":1,"y":6,"v":30},{"k":"is","x":2,"y":6,"v":22},{"k":"is","x":3,"y":6,"v":10},{"k":"is","x":4,"y":6,"v":13},{"k":"is","x":5,"y":6,"v":10},{"k":"is","x":6,"y":6,"v":80},{"k":"is","x":7,"y":6,"v":22},{"k":"is","x":8,"y":6,"v":2},{"k":"is","x":9,"y":6,"v":8},
{"k":"is","x":0,"y":5,"v":8},{"k":"is","x":1,"y":5,"v":30},{"k":"is","x":2,"y":5,"v":15},{"k":"is","x":3,"y":5,"v":13},{"k":"is","x":4,"y":5,"v":13},{"k":"is","x":5,"y":5,"v":88},{"k":"is","x":6,"y":5,"v":15},{"k":"is","x":7,"y":5,"v":25},{"k":"is","x":8,"y":5,"v":3},{"k":"is","x":9,"y":5,"v":8},
{"k":"is","x":0,"y":4,"v":8},{"k":"is","x":1,"y":4,"v":25},{"k":"is","x":2,"y":4,"v":15},{"k":"is","x":3,"y":4,"v":10},{"k":"is","x":4,"y":4,"v":92},{"k":"is","x":5,"y":4,"v":10},{"k":"is","x":6,"y":4,"v":13},{"k":"is","x":7,"y":4,"v":18},{"k":"is","x":8,"y":4,"v":0},{"k":"is","x":9,"y":4,"v":8},
{"k":"is","x":0,"y":3,"v":8},{"k":"is","x":1,"y":3,"v":25},{"k":"is","x":2,"y":3,"v":20},{"k":"is","x":3,"y":3,"v":82},{"k":"is","x":4,"y":3,"v":18},{"k":"is","x":5,"y":3,"v":12},{"k":"is","x":6,"y":3,"v":15},{"k":"is","x":7,"y":3,"v":20},{"k":"is","x":8,"y":3,"v":3},{"k":"is","x":9,"y":3,"v":10},
{"k":"is","x":0,"y":2,"v":8},{"k":"is","x":1,"y":2,"v":25},{"k":"is","x":2,"y":2,"v":92},{"k":"is","x":3,"y":2,"v":12},{"k":"is","x":4,"y":2,"v":15},{"k":"is","x":5,"y":2,"v":12},{"k":"is","x":6,"y":2,"v":15},{"k":"is","x":7,"y":2,"v":20},{"k":"is","x":8,"y":2,"v":3},{"k":"is","x":9,"y":2,"v":12},
{"k":"is","x":0,"y":1,"v":10},{"k":"is","x":1,"y":1,"v":97},{"k":"is","x":2,"y":1,"v":25},{"k":"is","x":3,"y":1,"v":12},{"k":"is","x":4,"y":1,"v":18},{"k":"is","x":5,"y":1,"v":13},{"k":"is","x":6,"y":1,"v":18},{"k":"is","x":7,"y":1,"v":20},{"k":"is","x":8,"y":1,"v":3},{"k":"is","x":9,"y":1,"v":12},
{"k":"is","x":0,"y":0,"v":85},{"k":"is","x":1,"y":0,"v":30},{"k":"is","x":2,"y":0,"v":18},{"k":"is","x":3,"y":0,"v":12},{"k":"is","x":4,"y":0,"v":15},{"k":"is","x":5,"y":0,"v":10},{"k":"is","x":6,"y":0,"v":15},{"k":"is","x":7,"y":0,"v":20},{"k":"is","x":8,"y":0,"v":0},{"k":"is","x":9,"y":0,"v":10},

{"k":"iw","x":0,"y":10,"v":10},{"k":"iw","x":1,"y":10,"v":28},{"k":"iw","x":2,"y":10,"v":20},{"k":"iw","x":3,"y":10,"v":15},{"k":"iw","x":4,"y":10,"v":15},{"k":"iw","x":5,"y":10,"v":18},{"k":"iw","x":6,"y":10,"v":8},{"k":"iw","x":7,"y":10,"v":20},{"k":"iw","x":8,"y":10,"v":2},{"k":"iw","x":9,"y":10,"v":18},
{"k":"iw","x":0,"y":9,"v":10},{"k":"iw","x":1,"y":9,"v":28},{"k":"iw","x":2,"y":9,"v":18},{"k":"iw","x":3,"y":9,"v":15},{"k":"iw","x":4,"y":9,"v":15},{"k":"iw","x":5,"y":9,"v":15},{"k":"iw","x":6,"y":9,"v":13},{"k":"iw","x":7,"y":9,"v":22},{"k":"iw","x":8,"y":9,"v":2},{"k":"iw","x":9,"y":9,"v":62},
{"k":"iw","x":0,"y":8,"v":10},{"k":"iw","x":1,"y":8,"v":28},{"k":"iw","x":2,"y":8,"v":20},{"k":"iw","x":3,"y":8,"v":12},{"k":"iw","x":4,"y":8,"v":12},{"k":"iw","x":5,"y":8,"v":10},{"k":"iw","x":6,"y":8,"v":8},{"k":"iw","x":7,"y":8,"v":20},{"k":"iw","x":8,"y":8,"v":40},{"k":"iw","x":9,"y":8,"v":12},
{"k":"iw","x":0,"y":7,"v":8},{"k":"iw","x":1,"y":7,"v":32},{"k":"iw","x":2,"y":7,"v":20},{"k":"iw","x":3,"y":7,"v":15},{"k":"iw","x":4,"y":7,"v":20},{"k":"iw","x":5,"y":7,"v":12},{"k":"iw","x":6,"y":7,"v":15},{"k":"iw","x":7,"y":7,"v":72},{"k":"iw","x":8,"y":7,"v":5},{"k":"iw","x":9,"y":7,"v":12},
{"k":"iw","x":0,"y":6,"v":10},{"k":"iw","x":1,"y":6,"v":30},{"k":"iw","x":2,"y":6,"v":18},{"k":"iw","x":3,"y":6,"v":15},{"k":"iw","x":4,"y":6,"v":15},{"k":"iw","x":5,"y":6,"v":15},{"k":"iw","x":6,"y":6,"v":62},{"k":"iw","x":7,"y":6,"v":25},{"k":"iw","x":8,"y":6,"v":0},{"k":"iw","x":9,"y":6,"v":15},
{"k":"iw","x":0,"y":5,"v":10},{"k":"iw","x":1,"y":5,"v":28},{"k":"iw","x":2,"y":5,"v":18},{"k":"iw","x":3,"y":5,"v":15},{"k":"iw","x":4,"y":5,"v":15},{"k":"iw","x":5,"y":5,"v":52},{"k":"iw","x":6,"y":5,"v":15},{"k":"iw","x":7,"y":5,"v":18},{"k":"iw","x":8,"y":5,"v":5},{"k":"iw","x":9,"y":5,"v":8},
{"k":"iw","x":0,"y":4,"v":10},{"k":"iw","x":1,"y":4,"v":28},{"k":"iw","x":2,"y":4,"v":18},{"k":"iw","x":3,"y":4,"v":12},{"k":"iw","x":4,"y":4,"v":65},{"k":"iw","x":5,"y":4,"v":12},{"k":"iw","x":6,"y":4,"v":15},{"k":"iw","x":7,"y":4,"v":25},{"k":"iw","x":8,"y":4,"v":0},{"k":"iw","x":9,"y":4,"v":12},
{"k":"iw","x":0,"y":3,"v":6},{"k":"iw","x":1,"y":3,"v":25},{"k":"iw","x":2,"y":3,"v":18},{"k":"iw","x":3,"y":3,"v":55},{"k":"iw","x":4,"y":3,"v":12},{"k":"iw","x":5,"y":3,"v":12},{"k":"iw","x":6,"y":3,"v":15},{"k":"iw","x":7,"y":3,"v":15},{"k":"iw","x":8,"y":3,"v":0},{"k":"iw","x":9,"y":3,"v":12},
{"k":"iw","x":0,"y":2,"v":8},{"k":"iw","x":1,"y":2,"v":25},{"k":"iw","x":2,"y":2,"v":60},{"k":"iw","x":3,"y":2,"v":15},{"k":"iw","x":4,"y":2,"v":18},{"k":"iw","x":5,"y":2,"v":15},{"k":"iw","x":6,"y":2,"v":13},{"k":"iw","x":7,"y":2,"v":20},{"k":"iw","x":8,"y":2,"v":2},{"k":"iw","x":9,"y":2,"v":12},
{"k":"iw","x":0,"y":1,"v":12},{"k":"iw","x":1,"y":1,"v":75},{"k":"iw","x":2,"y":1,"v":20},{"k":"iw","x":3,"y":1,"v":15},{"k":"iw","x":4,"y":1,"v":22},{"k":"iw","x":5,"y":1,"v":12},{"k":"iw","x":6,"y":1,"v":15},{"k":"iw","x":7,"y":1,"v":20},{"k":"iw","x":8,"y":1,"v":5},{"k":"iw","x":9,"y":1,"v":12},
{"k":"iw","x":0,"y":0,"v":40},{"k":"iw","x":1,"y":0,"v":20},{"k":"iw","x":2,"y":0,"v":18},{"k":"iw","x":3,"y":0,"v":12},{"k":"iw","x":4,"y":0,"v":10},{"k":"iw","x":5,"y":0,"v":12},{"k":"iw","x":6,"y":0,"v":15},{"k":"iw","x":7,"y":0,"v":25},{"k":"iw","x":8,"y":0,"v":0},{"k":"iw","x":9,"y":0,"v":12},

{"k":"os","x":0,"y":10,"v":1},{"k":"os","x":1,"y":10,"v":1},{"k":"os","x":2,"y":10,"v":1},{"k":"os","x":3,"y":10,"v":1},{"k":"os","x":4,"y":10,"v":1},{"k":"os","x":5,"y":10,"v":1},{"k":"os","x":6,"y":10,"v":1},{"k":"os","x":7,"y":10,"v":1},{"k":"os","x":8,"y":10,"v":1},{"k":"os","x":9,"y":10,"v":1},
{"k":"os","x":0,"y":9,"v":1},{"k":"os","x":1,"y":9,"v":1},{"k":"os","x":2,"y":9,"v":4},{"k":"os","x":3,"y":9,"v":1},{"k":"os","x":4,"y":9,"v":1},{"k":"os","x":5,"y":9,"v":1},{"k":"os","x":6,"y":9,"v":1},{"k":"os","x":7,"y":9,"v":2},{"k":"os","x":8,"y":9,"v":1},{"k":"os","x":9,"y":9,"v":80},
{"k":"os","x":0,"y":8,"v":1},{"k":"os","x":1,"y":8,"v":1},{"k":"os","x":2,"y":8,"v":1},{"k":"os","x":3,"y":8,"v":1},{"k":"os","x":4,"y":8,"v":1},{"k":"os","x":5,"y":8,"v":1},{"k":"os","x":6,"y":8,"v":1},{"k":"os","x":7,"y":8,"v":1},{"k":"os","x":8,"y":8,"v":88},{"k":"os","x":9,"y":8,"v":1},
{"k":"os","x":0,"y":7,"v":1},{"k":"os","x":1,"y":7,"v":1},{"k":"os","x":2,"y":7,"v":1},{"k":"os","x":3,"y":7,"v":1},{"k":"os","x":4,"y":7,"v":1},{"k":"os","x":5,"y":7,"v":1},{"k":"os","x":6,"y":7,"v":1},{"k":"os","x":7,"y":7,"v":92},{"k":"os","x":8,"y":7,"v":1},{"k":"os","x":9,"y":7,"v":1},
{"k":"os","x":0,"y":6,"v":1},{"k":"os","x":1,"y":6,"v":1},{"k":"os","x":2,"y":6,"v":1},{"k":"os","x":3,"y":6,"v":1},{"k":"os","x":4,"y":6,"v":1},{"k":"os","x":5,"y":6,"v":1},{"k":"os","x":6,"y":6,"v":72},{"k":"os","x":7,"y":6,"v":1},{"k":"os","x":8,"y":6,"v":1},{"k":"os","x":9,"y":6,"v":1},
{"k":"os","x":0,"y":5,"v":1},{"k":"os","x":1,"y":5,"v":1},{"k":"os","x":2,"y":5,"v":1},{"k":"os","x":3,"y":5,"v":1},{"k":"os","x":4,"y":5,"v":1},{"k":"os","x":5,"y":5,"v":92},{"k":"os","x":6,"y":5,"v":1},{"k":"os","x":7,"y":5,"v":1},{"k":"os","x":8,"y":5,"v":1},{"k":"os","x":9,"y":5,"v":3},
{"k":"os","x":0,"y":4,"v":1},{"k":"os","x":1,"y":4,"v":1},{"k":"os","x":2,"y":4,"v":1},{"k":"os","x":3,"y":4,"v":1},{"k":"os","x":4,"y":4,"v":100},{"k":"os","x":5,"y":4,"v":1},{"k":"os","x":6,"y":4,"v":2},{"k":"os","x":7,"y":4,"v":1},{"k":"os","x":8,"y":4,"v":1},{"k":"os","x":9,"y":4,"v":2},
{"k":"os","x":0,"y":3,"v":1},{"k":"os","x":1,"y":3,"v":1},{"k":"os","x":2,"y":3,"v":1},{"k":"os","x":3,"y":3,"v":78},{"k":"os","x":4,"y":3,"v":1},{"k":"os","x":5,"y":3,"v":2},{"k":"os","x":6,"y":3,"v":1},{"k":"os","x":7,"y":3,"v":1},{"k":"os","x":8,"y":3,"v":1},{"k":"os","x":9,"y":3,"v":1},
{"k":"os","x":0,"y":2,"v":1},{"k":"os","x":1,"y":2,"v":1},{"k":"os","x":2,"y":2,"v":90},{"k":"os","x":3,"y":2,"v":1},{"k":"os","x":4,"y":2,"v":1},{"k":"os","x":5,"y":2,"v":1},{"k":"os","x":6,"y":2,"v":1},{"k":"os","x":7,"y":2,"v":2},{"k":"os","x":8,"y":2,"v":1},{"k":"os","x":9,"y":2,"v":2},
{"k":"os","x":0,"y":1,"v":1},{"k":"os","x":1,"y":1,"v":97},{"k":"os","x":2,"y":1,"v":1},{"k":"os","x":3,"y":1,"v":1},{"k":"os","x":4,"y":1,"v":1},{"k":"os","x":5,"y":1,"v":1},{"k":"os","x":6,"y":1,"v":1},{"k":"os","x":7,"y":1,"v":1},{"k":"os","x":8,"y":1,"v":1},{"k":"os","x":9,"y":1,"v":1},
{"k":"os","x":0,"y":0,"v":88},{"k":"os","x":1,"y":0,"v":1},{"k":"os","x":2,"y":0,"v":1},{"k":"os","x":3,"y":0,"v":1},{"k":"os","x":4,"y":0,"v":1},{"k":"os","x":5,"y":0,"v":1},{"k":"os","x":6,"y":0,"v":1},{"k":"os","x":7,"y":0,"v":1},{"k":"os","x":8,"y":0,"v":1},{"k":"os","x":9,"y":0,"v":2},

{"k":"ow","x":0,"y":10,"v":1},{"k":"ow","x":1,"y":10,"v":1},{"k":"ow","x":2,"y":10,"v":1},{"k":"ow","x":3,"y":10,"v":1},{"k":"ow","x":4,"y":10,"v":1},{"k":"ow","x":5,"y":10,"v":1},{"k":"ow","x":6,"y":10,"v":1},{"k":"ow","x":7,"y":10,"v":4},{"k":"ow","x":8,"y":10,"v":1},{"k":"ow","x":9,"y":10,"v":1},
{"k":"ow","x":0,"y":9,"v":1},{"k":"ow","x":1,"y":9,"v":1},{"k":"ow","x":2,"y":9,"v":1},{"k":"ow","x":3,"y":9,"v":1},{"k":"ow","x":4,"y":9,"v":1},{"k":"ow","x":5,"y":9,"v":1},{"k":"ow","x":6,"y":9,"v":1},{"k":"ow","x":7,"y":9,"v":1},{"k":"ow","x":8,"y":9,"v":1},{"k":"ow","x":9,"y":9,"v":48},
{"k":"ow","x":0,"y":8,"v":1},{"k":"ow","x":1,"y":8,"v":1},{"k":"ow","x":2,"y":8,"v":2},{"k":"ow","x":3,"y":8,"v":1},{"k":"ow","x":4,"y":8,"v":1},{"k":"ow","x":5,"y":8,"v":3},{"k":"ow","x":6,"y":8,"v":1},{"k":"ow","x":7,"y":8,"v":3},{"k":"ow","x":8,"y":8,"v":20},{"k":"ow","x":9,"y":8,"v":1},
{"k":"ow","x":0,"y":7,"v":1},{"k":"ow","x":1,"y":7,"v":1},{"k":"ow","x":2,"y":7,"v":1},{"k":"ow","x":3,"y":7,"v":1},{"k":"ow","x":4,"y":7,"v":1},{"k":"ow","x":5,"y":7,"v":1},{"k":"ow","x":6,"y":7,"v":1},{"k":"ow","x":7,"y":7,"v":45},{"k":"ow","x":8,"y":7,"v":1},{"k":"ow","x":9,"y":7,"v":1},
{"k":"ow","x":0,"y":6,"v":1},{"k":"ow","x":1,"y":6,"v":1},{"k":"ow","x":2,"y":6,"v":1},{"k":"ow","x":3,"y":6,"v":1},{"k":"ow","x":4,"y":6,"v":1},{"k":"ow","x":5,"y":6,"v":1},{"k":"ow","x":6,"y":6,"v":27},{"k":"ow","x":7,"y":6,"v":2},{"k":"ow","x":8,"y":6,"v":1},{"k":"ow","x":9,"y":6,"v":1},
{"k":"ow","x":0,"y":5,"v":1},{"k":"ow","x":1,"y":5,"v":1},{"k":"ow","x":2,"y":5,"v":1},{"k":"ow","x":3,"y":5,"v":1},{"k":"ow","x":4,"y":5,"v":1},{"k":"ow","x":5,"y":5,"v":35},{"k":"ow","x":6,"y":5,"v":1},{"k":"ow","x":7,"y":5,"v":1},{"k":"ow","x":8,"y":5,"v":1},{"k":"ow","x":9,"y":5,"v":1},
{"k":"ow","x":0,"y":4,"v":1},{"k":"ow","x":1,"y":4,"v":1},{"k":"ow","x":2,"y":4,"v":1},{"k":"ow","x":3,"y":4,"v":1},{"k":"ow","x":4,"y":4,"v":20},{"k":"ow","x":5,"y":4,"v":1},{"k":"ow","x":6,"y":4,"v":1},{"k":"ow","x":7,"y":4,"v":1},{"k":"ow","x":8,"y":4,"v":1},{"k":"ow","x":9,"y":4,"v":1},
{"k":"ow","x":0,"y":3,"v":1},{"k":"ow","x":1,"y":3,"v":1},{"k":"ow","x":2,"y":3,"v":1},{"k":"ow","x":3,"y":3,"v":32},{"k":"ow","x":4,"y":3,"v":1},{"k":"ow","x":5,"y":3,"v":1},{"k":"ow","x":6,"y":3,"v":1},{"k":"ow","x":7,"y":3,"v":2},{"k":"ow","x":8,"y":3,"v":1},{"k":"ow","x":9,"y":3,"v":1},
{"k":"ow","x":0,"y":2,"v":1},{"k":"ow","x":1,"y":2,"v":1},{"k":"ow","x":2,"y":2,"v":20},{"k":"ow","x":3,"y":2,"v":1},{"k":"ow","x":4,"y":2,"v":1},{"k":"ow","x":5,"y":2,"v":1},{"k":"ow","x":6,"y":2,"v":1},{"k":"ow","x":7,"y":2,"v":1},{"k":"ow","x":8,"y":2,"v":1},{"k":"ow","x":9,"y":2,"v":1},
{"k":"ow","x":0,"y":1,"v":1},{"k":"ow","x":1,"y":1,"v":60},{"k":"ow","x":2,"y":1,"v":1},{"k":"ow","x":3,"y":1,"v":1},{"k":"ow","x":4,"y":1,"v":1},{"k":"ow","x":5,"y":1,"v":1},{"k":"ow","x":6,"y":1,"v":1},{"k":"ow","x":7,"y":1,"v":1},{"k":"ow","x":8,"y":1,"v":1},{"k":"ow","x":9,"y":1,"v":3},
{"k":"ow","x":0,"y":0,"v":15},{"k":"ow","x":1,"y":0,"v":1},{"k":"ow","x":2,"y":0,"v":1},{"k":"ow","x":3,"y":0,"v":1},{"k":"ow","x":4,"y":0,"v":1},{"k":"ow","x":5,"y":0,"v":1},{"k":"ow","x":6,"y":0,"v":1},{"k":"ow","x":7,"y":0,"v":1},{"k":"ow","x":8,"y":0,"v":1},{"k":"ow","x":9,"y":0,"v":1}
]
},
"spacing": 42,
"hconcat": [
{
  "title": {"text": "(a) Segmentation", "fontSize": 26, "anchor": "middle", "frame": "bounds", "offset": 2},
  "spacing": 0,
  "vconcat": [
    {"data": {"values": [{"t": "mIoU"}]}, "width": 137, "height": 15,
     "mark": {"type": "text", "fontSize": 21, "baseline": "alphabetic", "dy": 1, "font": "Liberation Serif", "color": "black"},
     "encoding": {"text": {"field": "t"}}},
    {"spacing": 3, "vconcat": [
      {"data": {"name": "heat"}, "transform": [{"filter": "datum.k == 'ms'"}],
       "width": 137, "height": 142, "mark": "rect",
       "encoding": {
         "x": {"field": "x", "type": "ordinal", "axis": null},
         "y": {"field": "y", "type": "ordinal", "sort": "descending", "axis": {"title": "Strong bias", "domain": false, "tickSize": 6, "labelPadding": 4, "titlePadding": 7, "labelExpr": "datum.value == 10 ? 'N' : datum.label"}},
         "color": {"field": "v", "type": "quantitative", "scale": {"scheme": "viridis", "domain": [0, 100]}, "legend": null},
         "stroke": {"field": "v", "type": "quantitative", "scale": {"scheme": "viridis", "domain": [0, 100]}, "legend": null}
       }},
      {"data": {"name": "heat"}, "transform": [{"filter": "datum.k == 'mw'"}],
       "width": 137, "height": 142, "mark": "rect",
       "encoding": {
         "x": {"field": "x", "type": "ordinal", "axis": {"title": "Digit", "domain": false, "tickSize": 7, "labelAngle": 0, "labelPadding": 2, "titlePadding": 5}},
         "y": {"field": "y", "type": "ordinal", "sort": "descending", "axis": {"title": "Weak bias", "domain": false, "tickSize": 6, "labelPadding": 4, "titlePadding": 7, "labelExpr": "datum.value == 10 ? 'N' : datum.label"}},
         "color": {"field": "v", "type": "quantitative", "scale": {"scheme": "viridis", "domain": [0, 100]}, "legend": null},
         "stroke": {"field": "v", "type": "quantitative", "scale": {"scheme": "viridis", "domain": [0, 100]}, "legend": null}
       }}
    ]}
  ]
},
{
  "spacing": 30,
  "hconcat": [
  {
    "title": {"text": "(b) Bias detection", "fontSize": 26, "anchor": "middle", "frame": "bounds", "offset": 2},
    "spacing": 0,
    "vconcat": [
      {"spacing": 4, "hconcat": [
        {"data": {"values": [{"t": "VG"}]}, "width": 138, "height": 18, "mark": {"type": "text", "fontSize": 21, "baseline": "alphabetic", "dy": -1, "font": "Liberation Serif", "color": "black"}, "encoding": {"text": {"field": "t"}}},
        {"data": {"values": [{"t": "SG"}]}, "width": 138, "height": 18, "mark": {"type": "text", "fontSize": 21, "baseline": "alphabetic", "dy": -1, "font": "Liberation Serif", "color": "black"}, "encoding": {"text": {"field": "t"}}},
        {"data": {"values": [{"t": "IG"}]}, "width": 138, "height": 18, "mark": {"type": "text", "fontSize": 21, "baseline": "alphabetic", "dy": -1, "font": "Liberation Serif", "color": "black"}, "encoding": {"text": {"field": "t"}}},
        {"data": {"values": [{"t": "Ours"}]}, "width": 138, "height": 18, "mark": {"type": "text", "fontSize": 21, "baseline": "alphabetic", "dy": -1, "font": "Liberation Serif", "color": "black"}, "encoding": {"text": {"field": "t"}}}
      ]},
      {"spacing": 8, "vconcat": [
        {"spacing": 4, "hconcat": [
          {"data": {"name": "heat"}, "transform": [{"filter": "datum.k == 'vs'"}], "width": 137, "height": 142, "mark": "rect",
           "encoding": {"x": {"field": "x", "type": "ordinal", "axis": null}, "y": {"field": "y", "type": "ordinal", "sort": "descending", "axis": null}, "color": {"field": "v", "type": "quantitative", "scale": {"scheme": "viridis", "domain": [0, 100]}, "legend": null}, "stroke": {"field": "v", "type": "quantitative", "scale": {"scheme": "viridis", "domain": [0, 100]}, "legend": null}}},
          {"data": {"name": "heat"}, "transform": [{"filter": "datum.k == 'ss'"}], "width": 137, "height": 142, "mark": "rect",
           "encoding": {"x": {"field": "x", "type": "ordinal", "axis": null}, "y": {"field": "y", "type": "ordinal", "sort": "descending", "axis": null}, "color": {"field": "v", "type": "quantitative", "scale": {"scheme": "viridis", "domain": [0, 100]}, "legend": null}, "stroke": {"field": "v", "type": "quantitative", "scale": {"scheme": "viridis", "domain": [0, 100]}, "legend": null}}},
          {"data": {"name": "heat"}, "transform": [{"filter": "datum.k == 'is'"}], "width": 137, "height": 142, "mark": "rect",
           "encoding": {"x": {"field": "x", "type": "ordinal", "axis": null}, "y": {"field": "y", "type": "ordinal", "sort": "descending", "axis": null}, "color": {"field": "v", "type": "quantitative", "scale": {"scheme": "viridis", "domain": [0, 100]}, "legend": null}, "stroke": {"field": "v", "type": "quantitative", "scale": {"scheme": "viridis", "domain": [0, 100]}, "legend": null}}},
          {"data": {"name": "heat"}, "transform": [{"filter": "datum.k == 'os'"}], "width": 137, "height": 142, "mark": "rect",
           "encoding": {"x": {"field": "x", "type": "ordinal", "axis": null}, "y": {"field": "y", "type": "ordinal", "sort": "descending", "axis": null}, "color": {"field": "v", "type": "quantitative", "scale": {"scheme": "viridis", "domain": [0, 100]}, "legend": null}, "stroke": {"field": "v", "type": "quantitative", "scale": {"scheme": "viridis", "domain": [0, 100]}, "legend": null}}}
        ]},
        {"spacing": 4, "hconcat": [
          {"data": {"name": "heat"}, "transform": [{"filter": "datum.k == 'vw'"}], "width": 137, "height": 142, "mark": "rect",
           "encoding": {"x": {"field": "x", "type": "ordinal", "axis": {"title": "Digit", "domain": false, "tickSize": 7, "labelAngle": 0, "labelPadding": 2, "titlePadding": 5}}, "y": {"field": "y", "type": "ordinal", "sort": "descending", "axis": null}, "color": {"field": "v", "type": "quantitative", "scale": {"scheme": "viridis", "domain": [0, 100]}, "legend": null}, "stroke": {"field": "v", "type": "quantitative", "scale": {"scheme": "viridis", "domain": [0, 100]}, "legend": null}}},
          {"data": {"name": "heat"}, "transform": [{"filter": "datum.k == 'sw'"}], "width": 137, "height": 142, "mark": "rect",
           "encoding": {"x": {"field": "x", "type": "ordinal", "axis": {"title": "Digit", "domain": false, "tickSize": 7, "labelAngle": 0, "labelPadding": 2, "titlePadding": 5}}, "y": {"field": "y", "type": "ordinal", "sort": "descending", "axis": null}, "color": {"field": "v", "type": "quantitative", "scale": {"scheme": "viridis", "domain": [0, 100]}, "legend": null}, "stroke": {"field": "v", "type": "quantitative", "scale": {"scheme": "viridis", "domain": [0, 100]}, "legend": null}}},
          {"data": {"name": "heat"}, "transform": [{"filter": "datum.k == 'iw'"}], "width": 137, "height": 142, "mark": "rect",
           "encoding": {"x": {"field": "x", "type": "ordinal", "axis": {"title": "Digit", "domain": false, "tickSize": 7, "labelAngle": 0, "labelPadding": 2, "titlePadding": 5}}, "y": {"field": "y", "type": "ordinal", "sort": "descending", "axis": null}, "color": {"field": "v", "type": "quantitative", "scale": {"scheme": "viridis", "domain": [0, 100]}, "legend": null}, "stroke": {"field": "v", "type": "quantitative", "scale": {"scheme": "viridis", "domain": [0, 100]}, "legend": null}}},
          {"data": {"name": "heat"}, "transform": [{"filter": "datum.k == 'ow'"}], "width": 137, "height": 142, "mark": "rect",
           "encoding": {"x": {"field": "x", "type": "ordinal", "axis": {"title": "Digit", "domain": false, "tickSize": 7, "labelAngle": 0, "labelPadding": 2, "titlePadding": 5}}, "y": {"field": "y", "type": "ordinal", "sort": "descending", "axis": null}, "color": {"field": "v", "type": "quantitative", "scale": {"scheme": "viridis", "domain": [0, 100]}, "legend": null}, "stroke": {"field": "v", "type": "quantitative", "scale": {"scheme": "viridis", "domain": [0, 100]}, "legend": null}}}
        ]}
      ]}
    ]
  },
  {
    "title": {"text": "(c) Bias localization", "fontSize": 26, "anchor": "middle", "frame": "bounds", "offset": -1},
    "spacing": 1,
    "vconcat": [
      {"data": {"name": "bars"}, "transform": [{"filter": "datum.b == 'strong'"}], "width": 122, "height": 145,
       "layer": [
         {"mark": {"type": "bar", "stroke": "#333333", "strokeWidth": 1.5},
          "encoding": {
            "x": {"field": "m", "type": "nominal", "sort": ["VG", "SG", "IG", "Ours"], "scale": {"paddingInner": 0.2, "paddingOuter": 0.1}, "axis": {"title": null, "labels": false, "ticks": false, "domainWidth": 1.5}},
            "y": {"field": "v", "type": "quantitative", "title": "mCBL (strong)", "scale": {"domain": [0, 1]}, "axis": {"values": [0, 0.5, 1], "format": ".1f", "labelFontSize": 21, "titleFontSize": 23, "tickSize": 6, "domainWidth": 1.5, "tickWidth": 1.5, "labelPadding": 2, "titlePadding": 5}},
            "color": {"field": "m", "type": "nominal", "scale": {"domain": ["VG", "SG", "IG", "Ours"], "range": ["#4a4a7d", "#38727f", "#339b78", "#7cc35c"]}, "legend": null}
          }},
         {"mark": {"type": "errorbar", "color": "black", "thickness": 1.5, "ticks": {"size": 8, "color": "black", "strokeWidth": 1.5}},
          "encoding": {
            "x": {"field": "m", "type": "nominal", "sort": ["VG", "SG", "IG", "Ours"]},
            "y": {"field": "lo", "type": "quantitative", "title": "mCBL (strong)"},
            "y2": {"field": "hi"}
          }},
         {"mark": {"type": "rule", "color": "#e0a030", "strokeDash": [7, 4], "strokeWidth": 2},
          "encoding": {"y": {"datum": 0.5}}}
       ]},
      {"data": {"name": "bars"}, "transform": [{"filter": "datum.b == 'weak'"}], "width": 122, "height": 144,
       "layer": [
         {"mark": {"type": "bar", "stroke": "#333333", "strokeWidth": 1.5},
          "encoding": {
            "x": {"field": "m", "type": "nominal", "sort": ["VG", "SG", "IG", "Ours"], "scale": {"paddingInner": 0.2, "paddingOuter": 0.1}, "axis": {"title": null, "labelAngle": -45, "labelFontSize": 21, "tickSize": 6, "domainWidth": 1.5, "tickWidth": 1.5}},
            "y": {"field": "v", "type": "quantitative", "title": "mCBL (weak)", "scale": {"domain": [0, 1]}, "axis": {"values": [0, 0.5, 1], "format": ".1f", "labelFontSize": 21, "titleFontSize": 23, "tickSize": 6, "domainWidth": 1.5, "tickWidth": 1.5, "labelPadding": 2, "titlePadding": 5}},
            "color": {"field": "m", "type": "nominal", "scale": {"domain": ["VG", "SG", "IG", "Ours"], "range": ["#4a4a7d", "#38727f", "#339b78", "#7cc35c"]}, "legend": null}
          }},
         {"mark": {"type": "errorbar", "color": "black", "thickness": 1.5, "ticks": {"size": 8, "color": "black", "strokeWidth": 1.5}},
          "encoding": {
            "x": {"field": "m", "type": "nominal", "sort": ["VG", "SG", "IG", "Ours"]},
            "y": {"field": "lo", "type": "quantitative", "title": "mCBL (weak)"},
            "y2": {"field": "hi"}
          }},
         {"mark": {"type": "rule", "color": "#e0a030", "strokeDash": [7, 4], "strokeWidth": 2},
          "encoding": {"y": {"datum": 0.5}}}
       ]}
    ]
  }
  ]
}
]
}
